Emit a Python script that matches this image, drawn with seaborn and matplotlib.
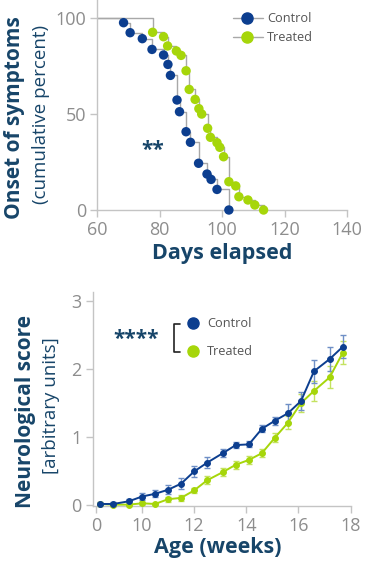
import numpy as np
import pandas as pd
import matplotlib
matplotlib.use("Agg")
import matplotlib.pyplot as plt
import seaborn as sns

# ---------------- data: onset of symptoms ----------------
ctrl_days = [68.5, 70.6, 74.5, 77.6, 81.3, 82.7, 83.5, 85.6, 86.4, 88.5, 89.9,
             92.5, 95.2, 96.5, 98.4, 102.2]
ctrl_pct = [97.4, 92.2, 89.1, 83.5, 80.6, 75.7, 70.0, 57.2, 51.1, 40.7, 35.2,
            24.3, 18.7, 15.9, 10.7, 0.0]
trt_days = [77.8, 81.3, 82.6, 85.4, 86.9, 88.5, 89.5, 91.4, 92.6, 93.5, 95.4,
            96.3, 98.4, 99.3, 100.5, 102.2, 104.4, 105.4, 108.3, 110.5, 113.3]
trt_pct = [92.4, 90.1, 85.3, 82.7, 80.4, 72.4, 62.7, 57.5, 52.7, 49.9, 42.5,
           37.8, 35.0, 32.6, 27.7, 14.7, 12.5, 6.9, 5.2, 2.6, 0.0]

# ---------------- data: neurological score ----------------
weeks = [8.4, 8.9, 9.5, 10.0, 10.5, 11.0, 11.5, 12.0, 12.5, 13.1, 13.6, 14.1,
         14.6, 15.1, 15.6, 16.1, 16.6, 17.2, 17.7]
ctrl_score = [0.01, 0.01, 0.05, 0.12, 0.16, 0.22, 0.31, 0.49, 0.62, 0.76, 0.88,
              0.89, 1.12, 1.24, 1.35, 1.53, 1.97, 2.15, 2.33]
ctrl_sem = [0.03, 0.03, 0.04, 0.05, 0.05, 0.07, 0.08, 0.085, 0.08, 0.06, 0.05,
            0.045, 0.05, 0.06, 0.135, 0.135, 0.17, 0.18, 0.17]
trt_score = [0.01, 0.0, 0.0, 0.02, 0.01, 0.08, 0.10, 0.21, 0.36, 0.48, 0.59,
             0.66, 0.76, 0.99, 1.21, 1.50, 1.68, 1.88, 2.24]
trt_sem = [0.02, 0.02, 0.02, 0.02, 0.02, 0.04, 0.04, 0.04, 0.06, 0.06, 0.06,
           0.06, 0.06, 0.07, 0.10, 0.13, 0.15, 0.16, 0.17]

x_ticks_top = [60, 80, 100, 120, 140]
y_ticks_top = [0, 50, 100]
x_tick_pos_bot = [8.25, 10, 12, 14, 16, 18]
x_tick_lab_bot = ["0", "10", "12", "14", "16", "18"]
y_ticks_bot = [0, 1, 2, 3]

BLUE = "#0c3e8f"
GREEN = "#a6d60a"
NAVY = "#174569"
GRAY_TXT = "#8d8d8d"
SPINE = "#c4c4c4"
STEP = "#a8a8a8"

sns.set_theme(style="ticks")
plt.rcParams["font.family"] = ["Open Sans", "DejaVu Sans"]

W, H = 367, 566
fig = plt.figure(figsize=(W / 100, H / 100), dpi=100)

def style_axes(ax):
    sns.despine(ax=ax)
    for s in ("left", "bottom"):
        ax.spines[s].set_color(SPINE)
        ax.spines[s].set_linewidth(1.0)
    ax.tick_params(colors=SPINE, labelcolor=GRAY_TXT, labelsize=13,
                   length=5, width=1.0, pad=3)

# ---------------- top panel ----------------
ax1 = fig.add_axes([97 / W, 1 - 210 / H, (347 - 97) / W, 210 / H])
ax1.step([60] + ctrl_days, [100] + ctrl_pct, where="post", color=STEP, lw=1.0, zorder=1)
ax1.step([60] + trt_days, [100] + trt_pct, where="post", color=STEP, lw=1.0, zorder=1)
dtop = pd.concat([
    pd.DataFrame({"day": ctrl_days, "pct": ctrl_pct, "grp": "Control"}),
    pd.DataFrame({"day": trt_days, "pct": trt_pct, "grp": "Treated"}),
])
sns.scatterplot(data=dtop, x="day", y="pct", hue="grp",
                palette={"Control": BLUE, "Treated": GREEN},
                s=46, linewidth=0, ax=ax1, legend=False, zorder=3, clip_on=False)
ax1.set_xlim(60, 140)
ax1.set_ylim(0, 109.2)
ax1.set_xticks(x_ticks_top)
ax1.set_yticks(y_ticks_top)
ax1.set_xlabel("")
ax1.set_ylabel("")
style_axes(ax1)
for c in ax1.collections:
    c.set_clip_on(False)

# legend top
for yy, col, lab in [(18.3, BLUE, "Control"), (37.3, GREEN, "Treated")]:
    fy = 1 - yy / H
    fig.add_artist(plt.Line2D([233 / W, 263 / W], [fy, fy], color=STEP, lw=1.0,
                              transform=fig.transFigure))
    fig.add_artist(plt.Line2D([247 / W], [fy], marker="o", ms=8, color=col,
                              mec=col, transform=fig.transFigure))
    fig.text(267 / W, fy, lab, color="#555555", fontsize=9.2, va="center", ha="left")

fig.text(153 / W, 1 - 150 / H, "**", color=NAVY, fontsize=15, fontweight="bold",
         ha="center", va="center")

fig.text(15 / W, 1 - 118 / H, "Onset of symptoms", rotation=90, color=NAVY,
         fontsize=15, fontweight="bold", ha="center", va="center")
fig.text(41 / W, 1 - 114 / H, "(cumulative percent)", rotation=90, color=NAVY,
         fontsize=13.5, ha="center", va="center")
fig.text(222 / W, 1 - 253 / H, "Days elapsed", color=NAVY, fontsize=15.5,
         fontweight="bold", ha="center", va="center")

# ---------------- bottom panel ----------------
ax2 = fig.add_axes([92.5 / W, 1 - 506 / H, (350.5 - 92.5) / W, (506 - 292) / H])
dbot = pd.concat([
    pd.DataFrame({"week": weeks, "score": ctrl_score, "grp": "Control"}),
    pd.DataFrame({"week": weeks, "score": trt_score, "grp": "Treated"}),
])
ax2.errorbar(weeks, trt_score, yerr=trt_sem, fmt="none", ecolor="#c4e260",
             elinewidth=1.0, capsize=2.2, capthick=1.0, zorder=2, clip_on=False)
ax2.errorbar(weeks, ctrl_score, yerr=ctrl_sem, fmt="none", ecolor="#6f8fc6",
             elinewidth=1.0, capsize=2.2, capthick=1.0, zorder=2, clip_on=False)
sns.lineplot(data=dbot[dbot.grp == "Treated"], x="week", y="score", color=GREEN,
             lw=1.4, marker="o", ms=4.2, mec=GREEN, ax=ax2, zorder=3, clip_on=False)
sns.lineplot(data=dbot[dbot.grp == "Control"], x="week", y="score", color=BLUE,
             lw=1.4, marker="o", ms=4.2, mec=BLUE, ax=ax2, zorder=4, clip_on=False)
ax2.set_xlim(8.1, 18.0)
ax2.set_ylim(-0.02, 3.14)
ax2.set_xticks(x_tick_pos_bot)
ax2.set_xticklabels(x_tick_lab_bot)
ax2.set_yticks(y_ticks_bot)
ax2.set_xlabel("")
ax2.set_ylabel("")
style_axes(ax2)

# legend bottom with bracket
fig.add_artist(plt.Line2D([180 / W, 174 / W, 174 / W, 180 / W],
                          [1 - 323.5 / H, 1 - 323.5 / H, 1 - 351.5 / H, 1 - 351.5 / H],
                          color="#222222", lw=1.2, transform=fig.transFigure))
for yy, col, lab in [(323.3, BLUE, "Control"), (351.3, GREEN, "Treated")]:
    fy = 1 - yy / H
    fig.add_artist(plt.Line2D([193 / W], [fy], marker="o", ms=8, color=col,
                              mec=col, lw=0, transform=fig.transFigure))
    fig.text(207 / W, fy, lab, color="#555555", fontsize=9.2, va="center", ha="left")
fig.text(136 / W, 1 - 339 / H, "****", color=NAVY, fontsize=15, fontweight="bold",
         ha="center", va="center")

fig.text(26 / W, 1 - 411 / H, "Neurological score", rotation=90, color=NAVY,
         fontsize=15, fontweight="bold", ha="center", va="center")
fig.text(51 / W, 1 - 406 / H, "[arbitrary units]", rotation=90, color=NAVY,
         fontsize=13.5, ha="center", va="center")
fig.text(218 / W, 1 - 547 / H, "Age (weeks)", color=NAVY, fontsize=15.5,
         fontweight="bold", ha="center", va="center")

fig.savefig("out.png", dpi=100)
